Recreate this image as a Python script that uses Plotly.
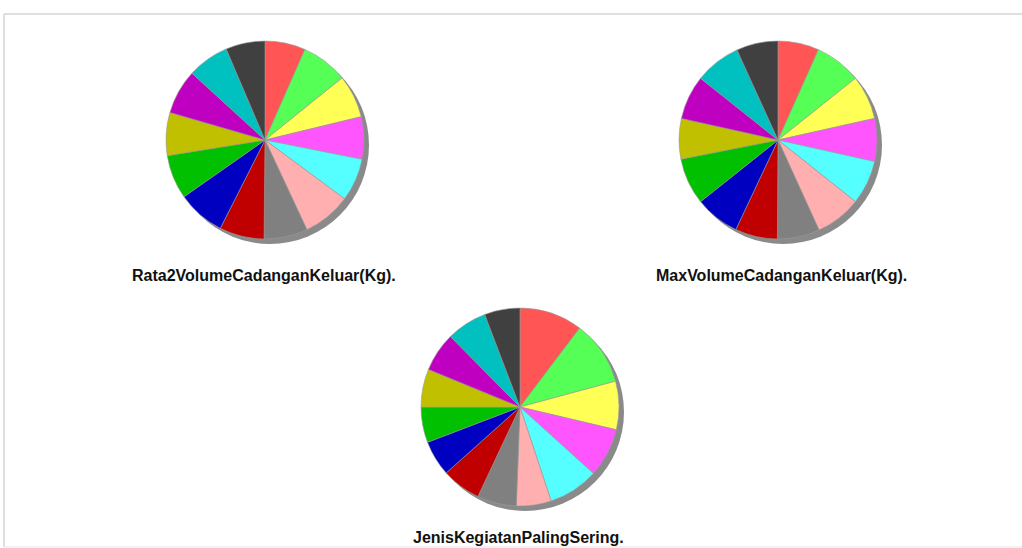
import plotly.graph_objects as go

W, H = 1022, 548

categories = ["Kategori 1", "Kategori 2", "Kategori 3", "Kategori 4", "Kategori 5",
              "Kategori 6", "Kategori 7", "Kategori 8", "Kategori 9", "Kategori 10",
              "Kategori 11", "Kategori 12", "Kategori 13", "Kategori 14"]

rata2_volume = [6.6, 7.6, 7.0, 6.9, 7.0, 7.9, 7.1, 7.3, 7.8, 7.2, 7.0, 7.3, 6.8, 6.4]
max_volume = [6.7, 7.6, 7.2, 7.0, 7.2, 7.5, 6.9, 6.9, 7.3, 7.6, 6.6, 7.2, 7.5, 6.8]
jenis_kegiatan = [10.3, 10.5, 7.9, 8.0, 8.2, 5.7, 6.4, 6.4, 5.8, 5.8, 6.2, 6.4, 6.6, 5.8]

titles = ["Rata2VolumeCadanganKeluar(Kg).", "MaxVolumeCadanganKeluar(Kg).",
          "JenisKegiatanPalingSering."]

colors = ["#FF5555", "#55FF55", "#FFFF55", "#FF55FF", "#55FFFF", "#FFAFAF", "#808080",
          "#C00000", "#0000C0", "#00C000", "#C0C000", "#C000C0", "#00C0C0", "#404040"]

# pixel layout: (center x, center y, radius), title position
pies = [(265, 140, 99), (778, 140, 99), (520, 407, 99)]
title_pos = [(264, 275), (781, 275), (518, 537)]
series = [rata2_volume, max_volume, jenis_kegiatan]


def dom(cx, cy, r, dx=0, dy=0):
    return dict(x=[(cx - r + dx) / W, (cx + r + dx) / W],
                y=[(H - (cy + r + dy)) / H, (H - (cy - r + dy)) / H])


fig = go.Figure()
for (cx, cy, r), vals in zip(pies, series):
    # drop shadow
    fig.add_trace(go.Pie(values=[1], labels=["shadow"], domain=dom(cx, cy, r, 5, 5),
                         marker=dict(colors=["#8a8a8a"], line=dict(width=0)),
                         textinfo="none", hoverinfo="skip", showlegend=False, sort=False))
    fig.add_trace(go.Pie(values=vals, labels=categories, domain=dom(cx, cy, r),
                         marker=dict(colors=colors, line=dict(color="#9a9a9a", width=0.6)),
                         sort=False, direction="clockwise", rotation=0,
                         textinfo="none", hoverinfo="label+value+percent",
                         showlegend=False))

annotations = []
for t, (tx, ty) in zip(titles, title_pos):
    annotations.append(dict(text="<b>" + t + "</b>", x=tx / W, y=(H - ty) / H,
                            xref="paper", yref="paper",
                            xanchor="center", yanchor="middle", showarrow=False,
                            font=dict(family="Liberation Sans, Arial, sans-serif",
                                      size=16, color="#111111")))

frame = dict(color="#d4d4d4", width=1.5)
fig.update_layout(
    width=W, height=H, margin=dict(l=0, r=0, t=0, b=0),
    paper_bgcolor="white", plot_bgcolor="white",
    annotations=annotations,
    shapes=[
        dict(type="line", xref="paper", yref="paper", x0=4 / W, x1=1,
             y0=(H - 14) / H, y1=(H - 14) / H, line=frame),
        dict(type="line", xref="paper", yref="paper", x0=4 / W, x1=4 / W,
             y0=(H - 14) / H, y1=(H - 547) / H, line=frame),
        dict(type="line", xref="paper", yref="paper", x0=4 / W, x1=1,
             y0=(H - 547) / H, y1=(H - 547) / H, line=dict(color="#e4e4e4", width=1)),
    ],
)

fig.write_html("out.html", config={"displayModeBar": False},
               post_script="document.body.style.margin='0';document.body.style.overflow='hidden';")
